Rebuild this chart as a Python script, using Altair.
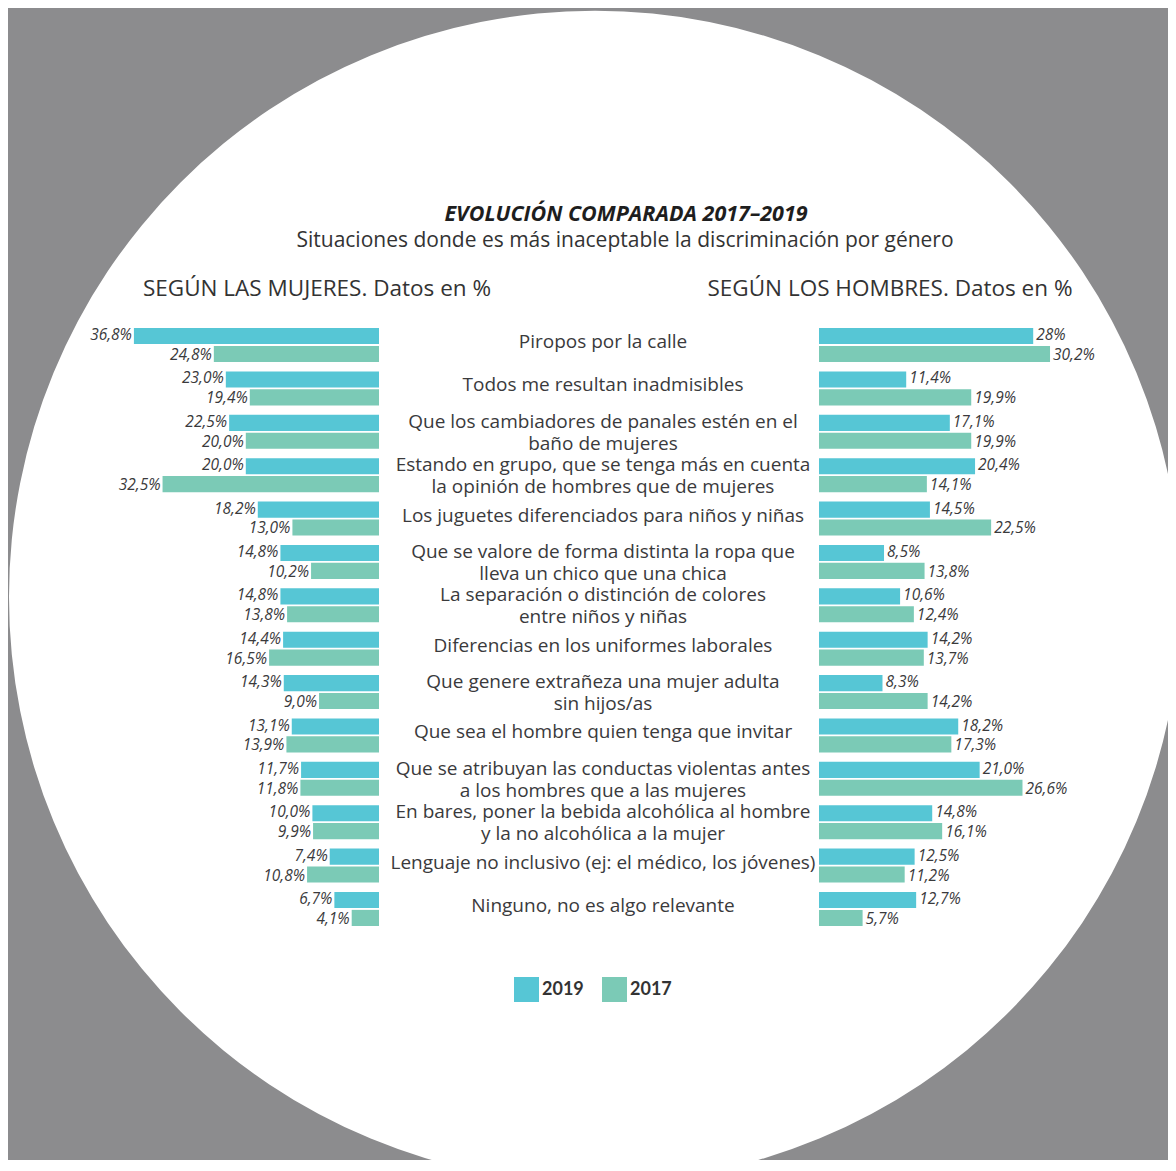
import altair as alt
import pandas as pd

categorias = [
    "Piropos por la calle",
    "Todos me resultan inadmisibles",
    "Que los cambiadores de panales estén en el\nbaño de mujeres",
    "Estando en grupo, que se tenga más en cuenta\nla opinión de hombres que de mujeres",
    "Los juguetes diferenciados para niños y niñas",
    "Que se valore de forma distinta la ropa que\nlleva un chico que una chica",
    "La separación o distinción de colores\nentre niños y niñas",
    "Diferencias en los uniformes laborales",
    "Que genere extrañeza una mujer adulta\nsin hijos/as",
    "Que sea el hombre quien tenga que invitar",
    "Que se atribuyan las conductas violentas antes\na los hombres que a las mujeres",
    "En bares, poner la bebida alcohólica al hombre\ny la no alcohólica  a la mujer",
    "Lenguaje no inclusivo (ej: el médico, los jóvenes)",
    "Ninguno, no es algo relevante",
]
mujeres_2019 = [36.8, 23.0, 22.5, 20.0, 18.2, 14.8, 14.8, 14.4, 14.3, 13.1, 11.7, 10.0, 7.4, 6.7]
mujeres_2017 = [24.8, 19.4, 20.0, 32.5, 13.0, 10.2, 13.8, 16.5, 9.0, 13.9, 11.8, 9.9, 10.8, 4.1]
hombres_2019 = [28.0, 11.4, 17.1, 20.4, 14.5, 8.5, 10.6, 14.2, 8.3, 18.2, 21.0, 14.8, 12.5, 12.7]
hombres_2017 = [30.2, 19.9, 19.9, 14.1, 22.5, 13.8, 12.4, 13.7, 14.2, 17.3, 26.6, 16.1, 11.2, 5.7]
anios = ["2019", "2017"]
colores = ["#56C6D5", "#7BCAB6"]
etiquetas_especiales = {("H", "2019", 0): "28%"}

titulo = "EVOLUCIÓN COMPARADA 2017–2019"
subtitulo = "Situaciones donde es más inaceptable la discriminación por género"
cabecera_m = "SEGÚN LAS MUJERES. Datos en %"
cabecera_h = "SEGÚN LOS HOMBRES. Datos en %"

FONT = "Open Sans"
TXT = "#3a3a3c"


def fmt(v):
    return f"{v:.1f}".replace(".", ",") + "%"


def build(side, s19, s17):
    rows = []
    for i, c in enumerate(categorias):
        for y, v in (("2019", s19[i]), ("2017", s17[i])):
            lab = etiquetas_especiales.get((side, y, i), fmt(v))
            rows.append({"cat": c, "year": y, "value": v, "label": lab})
    return pd.DataFrame(rows)


df_m = build("M", mujeres_2019, mujeres_2017)
df_h = build("H", hombres_2019, hombres_2017)

yscale = alt.Scale(domain=categorias, range=[320, 918], paddingInner=0.216, paddingOuter=0)
yoff = alt.Scale(domain=anios, paddingInner=0.1, paddingOuter=0)
left_x = alt.Scale(domain=[0, 40], range=[371, 371 - 40 * 6.66])
right_x = alt.Scale(domain=[0, 40], range=[811, 811 + 40 * 7.65])

legend = alt.Legend(
    title=None, orient="none", legendX=506, legendY=969, direction="horizontal",
    symbolType="square", symbolSize=625, symbolStrokeWidth=0, symbolOpacity=1,
    labelFont="Lato", labelFontSize=18, labelFontWeight="bold", labelColor="#333333",
    columnPadding=18, labelOffset=3, padding=0,
)
color = alt.Color("year:N", scale=alt.Scale(domain=anios, range=colores), sort=anios, legend=legend)

Y = alt.Y("cat:N", sort=categorias, scale=yscale, axis=None)
YO = alt.YOffset("year:N", sort=anios, scale=yoff)

one = pd.DataFrame({"a": [0]})

# Vega circle symbol: radius = sqrt(size) / 2
circle = alt.Chart(one).mark_circle(color="white", opacity=1).encode(
    x=alt.value(587), y=alt.value(589), size=alt.value((2 * 586) ** 2)
)

t_title = alt.Chart(one).mark_text(
    text=titulo, font=FONT, fontSize=21.5, fontWeight="bold", fontStyle="italic",
    color="#1e1e1e", align="center", baseline="middle"
).encode(x=alt.value(618), y=alt.value(207))
t_sub = alt.Chart(one).mark_text(
    text=subtitulo, font=FONT, fontSize=21, color="#333333", align="center", baseline="middle"
).encode(x=alt.value(617), y=alt.value(233))
t_hm = alt.Chart(one).mark_text(
    text=cabecera_m, font=FONT, fontSize=22.5, color="#333333", align="center", baseline="middle"
).encode(x=alt.value(309), y=alt.value(281))
t_hh = alt.Chart(one).mark_text(
    text=cabecera_h, font=FONT, fontSize=22.5, color="#333333", align="center", baseline="middle"
).encode(x=alt.value(882), y=alt.value(281))


def labels(df, scale, align, dx):
    out = []
    for yr, dy in (("2019", -1), ("2017", 1)):
        out.append(
            alt.Chart(df[df["year"] == yr]).mark_text(
                align=align, baseline="middle", dx=dx, dy=dy, font=FONT, fontStyle="italic",
                fontSize=15.5, color=TXT
            ).encode(y=Y, yOffset=YO, x=alt.X("value:Q", scale=scale, axis=None), text="label:N")
        )
    return out


bars_m = alt.Chart(df_m).mark_bar().encode(
    y=Y, yOffset=YO, x=alt.X("value:Q", scale=left_x, axis=None), x2=alt.datum(0), color=color
)
bars_h = alt.Chart(df_h).mark_bar().encode(
    y=Y, yOffset=YO, x=alt.X("value:Q", scale=right_x, axis=None), x2=alt.datum(0), color=color
)
lab_m = labels(df_m, left_x, "right", -2)
lab_h = labels(df_h, right_x, "left", 3)

df_c = pd.DataFrame({"cat": categorias})
df_c["lines"] = df_c["cat"].str.count("\n") + 1
LH = 22
lab_c1 = alt.Chart(df_c[df_c["lines"] == 1]).mark_text(
    align="center", baseline="middle", font=FONT, fontSize=19, color=TXT, dy=-3
).encode(y=Y, x=alt.value(595), text="cat:N")
lab_c2 = alt.Chart(df_c[df_c["lines"] == 2]).mark_text(
    align="center", baseline="middle", font=FONT, fontSize=19, color=TXT, lineBreak="\n",
    lineHeight=LH, dy=-LH / 2 + 1
).encode(y=Y, x=alt.value(595), text="cat:N")

chart = alt.layer(
    circle, t_title, t_sub, t_hm, t_hh, bars_m, *lab_m, bars_h, *lab_h, lab_c1, lab_c2
).resolve_scale(x="independent").properties(
    width=1160, height=1152, padding=0, autosize=alt.AutoSizeParams(type="none"),
    background="#8C8C8E",
).configure_view(stroke=None)

chart.save("out.html", embed_options={"renderer": "svg", "actions": False})
